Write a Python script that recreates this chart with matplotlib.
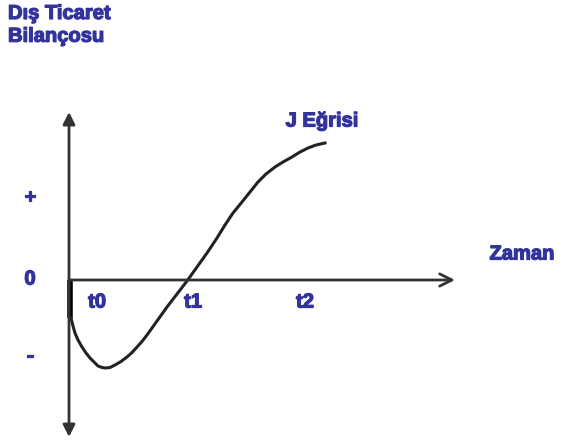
import numpy as np
import matplotlib
matplotlib.use("Agg")
import matplotlib.pyplot as plt
import matplotlib.patheffects as pe

# J curve (time, trade balance), arbitrary units
zaman = [0.2, 0.4, 0.6, 0.9, 1.3, 1.7, 2.1, 2.5, 2.9, 3.3, 3.6, 4.1, 4.6, 5.2,
         5.8, 6.3, 6.8, 7.3, 7.8, 8.8, 9.8, 10.8, 11.8, 12.8, 13.8, 14.8,
         15.6, 16.4, 17.3, 18.1, 18.9, 19.7, 20.6, 21.4, 22.3, 23.1, 23.9,
         24.7, 25.6]
bilanco = [-3.8, -4.6, -5.3, -6.0, -6.7, -7.3, -7.8, -8.2, -8.6, -8.75, -8.8,
           -8.75, -8.5, -8.15, -7.7, -7.25, -6.7, -6.15, -5.5, -4.1, -2.7,
           -1.4, -0.1, 1.3, 2.7, 4.2, 5.5, 6.7, 7.8, 8.8, 9.8, 10.6, 11.3,
           11.8, 12.3, 12.8, 13.2, 13.5, 13.7]

t_labels = ["t0", "t1", "t2"]
t_pos = [2.8, 12.4, 23.6]
y_labels = ["+", "0", "-"]
y_pos = [8.3, 0.1, -7.6]

blue = "#33339c"
axcol = "#333333"
font = "Liberation Sans"

fig = plt.figure(figsize=(5.63, 4.43), dpi=100)
ax = fig.add_axes([0, 0, 1, 1])
ax.set_xlim(-6.9, 49.4)
ax.set_ylim(-16.3, 28.0)
ax.axis("off")

# axes drawn as arrows
ax.annotate("", xy=(0, 16.8), xytext=(0, -15.7),
            arrowprops=dict(arrowstyle="<|-|>", color=axcol, lw=2,
                            mutation_scale=18, shrinkA=0, shrinkB=0))
ax.annotate("", xy=(38.6, 0), xytext=(0, 0),
            arrowprops=dict(arrowstyle="->", color=axcol, lw=2,
                            mutation_scale=22, shrinkA=0, shrinkB=0))

# curve
ax.plot([0.1, 0.1], [0, -3.8], color="black", lw=4, solid_capstyle="butt")
ax.plot(zaman, bilanco, color="#222222", lw=2.2, solid_joinstyle="round")

bold = [pe.withStroke(linewidth=0.9, foreground=blue)]
tx = dict(color=blue, fontsize=14.5, fontweight="bold", family=font,
          path_effects=bold)
ax.text(-6.1, 27.6, "Dış Ticaret\nBilançosu", ha="left", va="top",
        linespacing=1.25, **tx)
for lab, y in zip(y_labels, y_pos):
    ax.text(-3.9, y, lab, ha="center", va="center", **tx)
for lab, x in zip(t_labels, t_pos):
    ax.text(x, -2.2, lab, ha="center", va="center", **tx)
ax.text(45.3, 2.6, "Zaman", ha="center", va="center", **tx)
ax.text(25.3, 15.9, "J Eğrisi", ha="center", va="center", **tx)

fig.savefig("out.png", dpi=100)
